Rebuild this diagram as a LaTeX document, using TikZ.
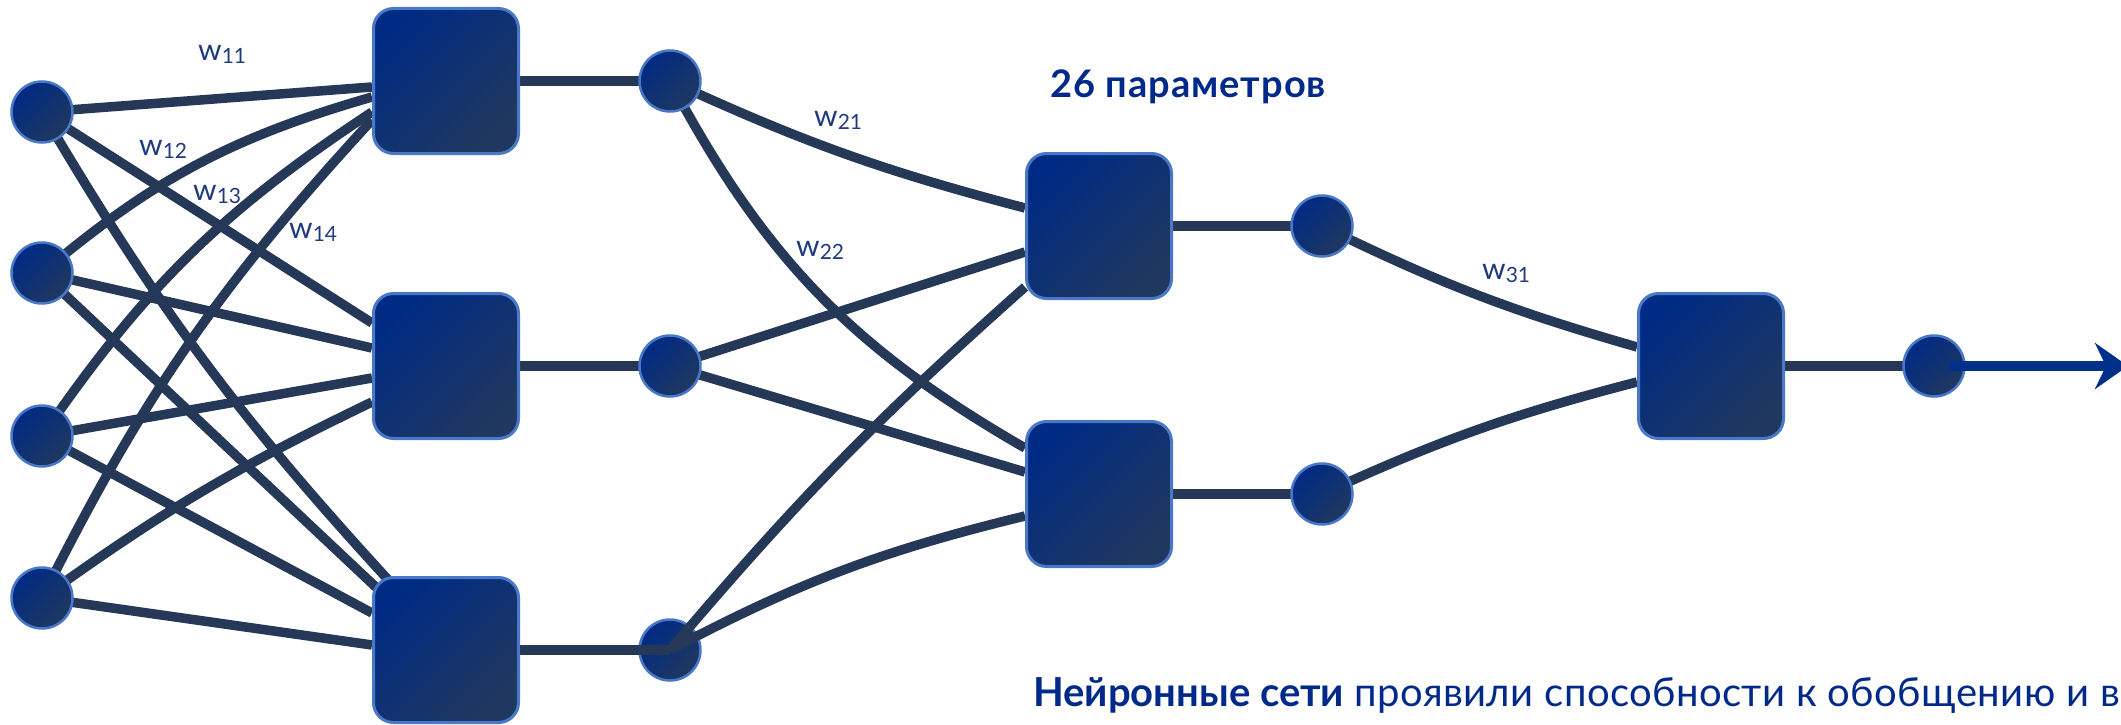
\documentclass[tikz,border=0pt]{standalone}
\usepackage{fontspec}
\setmainfont{Lato}
\usetikzlibrary{arrows.meta}
\definecolor{linec}{HTML}{253858}
\definecolor{bordc}{HTML}{4A78C8}
\definecolor{gradA}{HTML}{002B84}
\definecolor{gradB}{HTML}{20385F}
\definecolor{labc}{HTML}{1F3B7C}
\definecolor{titc}{HTML}{00298A}
\definecolor{arrc}{HTML}{00308A}
\pgfdeclarelayer{bg}
\pgfdeclarelayer{fg}
\pgfsetlayers{bg,main,fg}
\newcommand\wlab[1]{w\raisebox{-3.5pt}{\fontsize{21}{21}\selectfont #1}}
\tikzset{
  conn/.style={draw=linec, line width=9.5pt},
  nbox/.style={rectangle, rounded corners=20pt, minimum width=145pt, minimum height=145pt,
    draw=bordc, line width=3pt, top color=gradA, bottom color=gradB, shading angle=45, inner sep=0pt},
  neur/.style={circle, minimum size=61pt, inner sep=0pt, draw=bordc, line width=2.5pt,
    top color=gradA, bottom color=gradB, shading angle=45},
  lab/.style={anchor=base west, inner sep=0pt, text=labc, font=\fontsize{30}{30}\selectfont},
}
\begin{document}
\begin{tikzpicture}[x=1pt,y=1pt]
\useasboundingbox (0,0) rectangle (2121,-725);
\clip (0,0) rectangle (2121,-725);

% input layer
\node[neur] (i1) at (42,-112) {};
\node[neur] (i2) at (42,-273) {};
\node[neur] (i3) at (42,-436) {};
\node[neur] (i4) at (42,-598) {};
% first hidden boxes
\node[nbox] (b1) at (446,-81) {};
\node[nbox] (b2) at (446,-366) {};
\node[nbox] (b3) at (446,-650) {};
% first hidden outputs
\node[neur] (m1) at (670,-81) {};
\node[neur] (m2) at (670,-366) {};
\node[neur] (m3) at (670,-650) {};
% second hidden boxes
\begin{pgfonlayer}{fg}
\node[nbox] (B1) at (1099,-226) {};
\node[nbox] (B2) at (1099,-494) {};
\end{pgfonlayer}
\node[neur] (n1) at (1322,-226) {};
\node[neur] (n2) at (1322,-494) {};
% output
\node[nbox] (c) at (1711,-366) {};
\node[neur] (o) at (1934,-366) {};
\coordinate (tip) at (2128,-366);

\begin{pgfonlayer}{bg}
\draw[conn] (i1.center) -- ([yshift=-6]b1.west);
\draw[conn] (i2.center) to[bend left=12] ([yshift=-16]b1.west);
\draw[conn] (i3.center) to[bend left=11] ([yshift=-31]b1.west);
\draw[conn] (i4.center) to[bend left=8] ([yshift=-39]b1.west);
\draw[conn] (i1.center) -- ([yshift=43]b2.west);
\draw[conn] (i2.center) -- ([yshift=18]b2.west);
\draw[conn] (i3.center) -- ([yshift=-12]b2.west);
\draw[conn] (i4.center) to[bend left=5] ([yshift=-36]b2.west);
\draw[conn] (i1.center) to[bend right=6] ([xshift=20,yshift=-8]b3.north west);
\draw[conn] (i2.center) -- ([xshift=8,yshift=-15]b3.north west);
\draw[conn] (i3.center) -- ([yshift=37]b3.west);
\draw[conn] (i4.center) -- ([yshift=5]b3.west);
\draw[conn] (b1.east) -- (m1.center);
\draw[conn] (b2.east) -- (m2.center);
\draw[conn] (m1.center) to[bend right=5] ([yshift=18]B1.west);
\draw[conn] (m1.center) to[bend right=16] ([yshift=46]B2.west);
\draw[conn] (m2.center) -- ([yshift=-26]B1.west);
\draw[conn] (m2.center) -- ([yshift=22]B2.west);
\draw[conn] (B1.east) -- (n1.center);
\draw[conn] (B2.east) -- (n2.center);
\draw[conn] (n1.center) to[bend right=5] ([yshift=19]c.west);
\draw[conn] (n2.center) to[bend left=5] ([yshift=-16]c.west);
\draw[conn] (c.east) -- (o.center);
\end{pgfonlayer}

% lines drawn over the bottom middle neuron
\draw[conn] (b3.east) -- (m3.center);
\draw[conn] (m3.center) to[bend left=4] ([yshift=-61]B1.west);
\draw[conn] (m3.center) to[bend left=7] ([yshift=-22]B2.west);
% output arrow
\draw[draw=arrc, line width=10pt, -{Stealth[length=33pt,width=46pt,inset=11pt]}] ([xshift=15]o.center) -- (tip);

% labels
\node[lab] (w11) at (198,-60) {\wlab{11}};
\node[lab] (w12) at (139,-155) {\wlab{12}};
\node[lab] (w13) at (193,-200) {\wlab{13}};
\node[lab] (w14) at (289,-238) {\wlab{14}};
\node[lab] (w21) at (814,-126) {\wlab{21}};
\node[lab] (w22) at (796,-256) {\wlab{22}};
\node[lab] (w31) at (1482,-279) {\wlab{31}};

\node[anchor=base west, inner sep=0pt, text=titc, font=\fontsize{38}{38}\selectfont\bfseries\addfontfeatures{LetterSpace=2.7}] (title) at (1050,-97) {26 параметров};
\node[anchor=base west, inner sep=0pt, text=titc, font=\fontsize{40}{40}\selectfont] (txt) at (1033,-706) {\textbf{Нейронные сети} {\addfontfeatures{LetterSpace=1.1}проявили способности к обобщению и в}};
\end{tikzpicture}
\end{document}
